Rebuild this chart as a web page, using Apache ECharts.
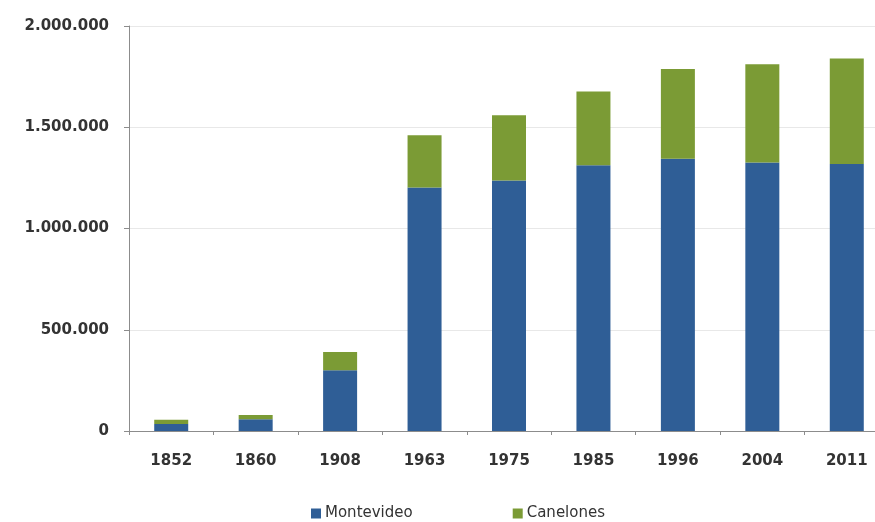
<!DOCTYPE html>
<html>
<head>
<meta charset="utf-8">
<script src="https://cdn.jsdelivr.net/npm/echarts@6/dist/echarts.min.js"></script>
<style>html,body{margin:0;padding:0;background:#fff;overflow:hidden;width:875px;height:522px;}#c{width:889px;height:522px;}</style>
</head>
<body>
<div id="c"></div>
<script>
var categories = ['1852', '1860', '1908', '1963', '1975', '1985', '1996', '2004', '2011'];
var montevideo = [34000, 58000, 300000, 1202757, 1237227, 1311976, 1344839, 1325968, 1319108];
var canelones = [22000, 21000, 90000, 258195, 321662, 364248, 443053, 485240, 520187];
var yTicks = [0, 500000, 1000000, 1500000, 2000000];

function fmt(v) {
  return String(v).replace(/\B(?=(\d{3})+(?!\d))/g, '.');
}

var chart = echarts.init(document.getElementById('c'));
chart.setOption({
  animation: false,
  textStyle: { fontFamily: 'DejaVu Sans' },
  grid: { left: 129, right: 0, top: 26, bottom: 91, containLabel: false },
  legend: {
    data: ['Montevideo', 'Canelones'],
    left: 306, top: 501,
    icon: 'rect', itemWidth: 10, itemHeight: 10, itemGap: 100,
    textStyle: { fontSize: 15, color: '#333', fontFamily: 'DejaVu Sans', padding: [0, 0, 0, -1] }
  },
  xAxis: {
    type: 'category', data: categories,
    axisLine: { lineStyle: { color: '#8c8c8c', width: 1 } },
    axisTick: { show: true, length: 4, lineStyle: { color: '#8c8c8c' } },
    axisLabel: { fontSize: 15, fontWeight: 'bold', color: '#333', margin: 23 }
  },
  yAxis: {
    type: 'value', min: yTicks[0], max: yTicks[yTicks.length - 1], interval: 500000,
    axisLine: { show: true, lineStyle: { color: '#8c8c8c', width: 1 } },
    axisTick: { show: true, length: 5, lineStyle: { color: '#8c8c8c' } },
    splitLine: { show: true, lineStyle: { color: '#e8e8e8', width: 1 } },
    axisLabel: { fontSize: 15, fontWeight: 'bold', color: '#333', margin: 20, formatter: fmt }
  },
  series: [
    { name: 'Montevideo', type: 'bar', stack: 'p', data: montevideo, barWidth: 34,
      itemStyle: { color: '#2f5e96' } },
    { name: 'Canelones', type: 'bar', stack: 'p', data: canelones, barWidth: 34,
      itemStyle: { color: '#7b9b35' } }
  ]
});
</script>
</body>
</html>
